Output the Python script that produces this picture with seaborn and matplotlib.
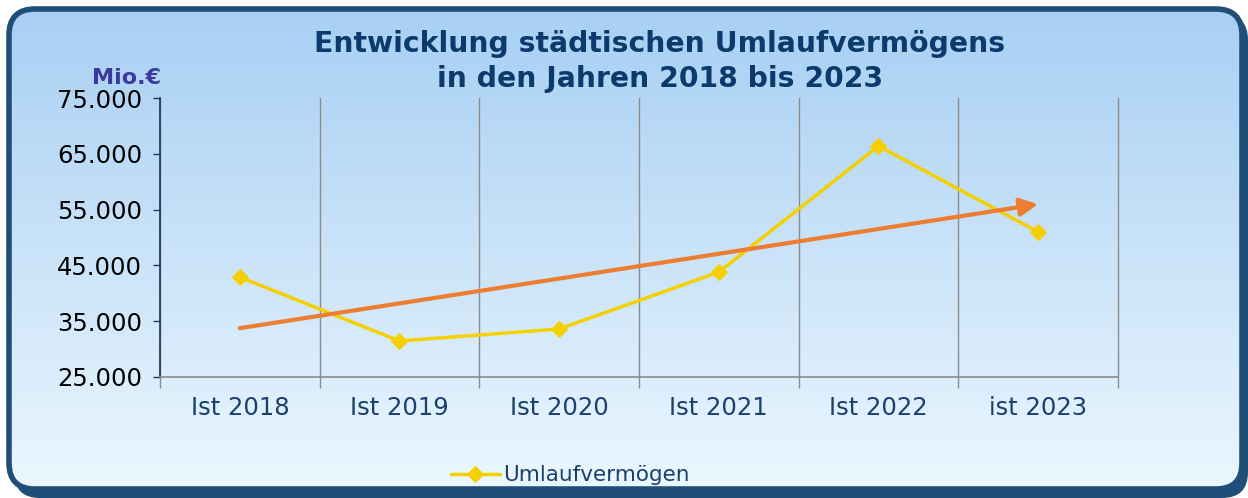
import numpy as np
import pandas as pd
import matplotlib
matplotlib.use("Agg")
import matplotlib.pyplot as plt
import seaborn as sns
from matplotlib.patches import FancyBboxPatch
from matplotlib.colors import LinearSegmentedColormap
from matplotlib.ticker import FixedLocator, FuncFormatter, NullFormatter

# -----------------------------------
# Data
# -----------------------------------
years = ["Ist 2018", "Ist 2019", "Ist 2020", "Ist 2021", "Ist 2022", "ist 2023"]
umlauf = [42900, 31450, 33600, 43800, 66400, 51000]
y_ticks = [25000, 35000, 45000, 55000, 65000, 75000]

df = pd.DataFrame({"pos": np.arange(len(years)), "wert": umlauf})

sns.set_theme(style="white")
plt.rcParams["font.family"] = ["DejaVu Sans"]

NAVY = "#0c3a6c"
TICKBLUE = "#1a406e"
GRID = "#8c8c8c"
FRAME = "#1f4e79"

fig = plt.figure(figsize=(12.48, 4.98), dpi=100)
fig.patch.set_facecolor("white")

# --- background: rounded frame with gradient ---
bg = fig.add_axes([0, 0, 1, 1], zorder=0)
bg.set_xlim(0, 1248)
bg.set_ylim(498, 0)
bg.axis("off")
shadow = FancyBboxPatch((14, 14), 1234, 484, boxstyle="round,pad=0,rounding_size=26",
                        facecolor=FRAME, edgecolor="none", zorder=1)
bg.add_patch(shadow)
box = FancyBboxPatch((9, 9), 1233, 480, boxstyle="round,pad=0,rounding_size=26",
                     facecolor="none", edgecolor=FRAME, linewidth=4, zorder=3)
bg.add_patch(box)
cmap = LinearSegmentedColormap.from_list("bg", ["#a8cff3", "#ebf7fe"])
grad = np.linspace(0, 1, 256)[:, None]
im = bg.imshow(grad, extent=[9, 1242, 489, 9], cmap=cmap, aspect="auto", zorder=2)
im.set_clip_path(box)

# --- main axes ---
ax = fig.add_axes([0.1282, 0.243, 0.7676, 0.5602], zorder=2)
ax.set_facecolor("none")

sns.lineplot(data=df, x="pos", y="wert", ax=ax, color="#f5d000", lw=2.5,
             marker="D", markersize=8, markeredgecolor="#f5d000",
             label="Umlaufvermögen", zorder=3)

# linear trend arrow
coef = np.polyfit(df["pos"], df["wert"], 1)
trend = np.poly1d(coef)
x0, x1 = df["pos"].min(), df["pos"].max()
ax.annotate("", xy=(x1, trend(x1)), xytext=(x0, trend(x0)),
            arrowprops=dict(arrowstyle="-|>,head_length=0.9,head_width=0.45",
                            color="#ed7d31", lw=3, shrinkA=0, shrinkB=0),
            zorder=4)

ax.set_xlim(-0.5, len(years) - 0.5)
ax.set_ylim(y_ticks[0], y_ticks[-1])
ax.set_xlabel("")
ax.set_ylabel("")

ax.xaxis.set_major_locator(FixedLocator(np.arange(-0.5, len(years), 1)))
ax.xaxis.set_major_formatter(NullFormatter())
ax.xaxis.set_minor_locator(FixedLocator(df["pos"]))
ax.set_xticklabels(years, minor=True)
ax.tick_params(axis="x", which="major", direction="out", length=8, width=1, color=GRID, bottom=True)
ax.tick_params(axis="x", which="minor", length=0, pad=14, labelsize=17.5, labelcolor=TICKBLUE, bottom=True)

ax.yaxis.set_major_locator(FixedLocator(y_ticks))
ax.yaxis.set_major_formatter(FuncFormatter(lambda v, p: f"{v:,.0f}".replace(",", ".")))
ax.tick_params(axis="y", direction="out", length=5, width=1, color="#1f3864", pad=8,
               labelsize=17.5, labelcolor="black", left=True)

ax.grid(axis="x", which="major", color=GRID, lw=1)
ax.grid(axis="y", visible=False)
for gl in ax.get_xgridlines():
    gl.set_clip_on(False)
for s in ["top", "right"]:
    ax.spines[s].set_visible(False)
ax.spines["left"].set_color("#1f3864")
ax.spines["bottom"].set_color(GRID)
ax.spines["bottom"].set_linewidth(1.2)

leg = ax.legend(loc="center", bbox_to_anchor=(0.457, 0.046), bbox_transform=fig.transFigure,
                frameon=False, fontsize=15.5, handlelength=2.3, handletextpad=0.15)
for t in leg.get_texts():
    t.set_color(TICKBLUE)

fig.text(0.5285, 0.8765, "Entwicklung städtischen Umlaufvermögens\nin den Jahren 2018 bis 2023",
         ha="center", va="center", fontsize=20.3, fontweight="bold", color=NAVY, linespacing=1.3)
fig.text(0.0737, 0.843, "Mio.€", ha="left", va="center", fontsize=16, fontweight="bold",
         color="#3a3a9e")

fig.savefig("out.png", dpi=100)
